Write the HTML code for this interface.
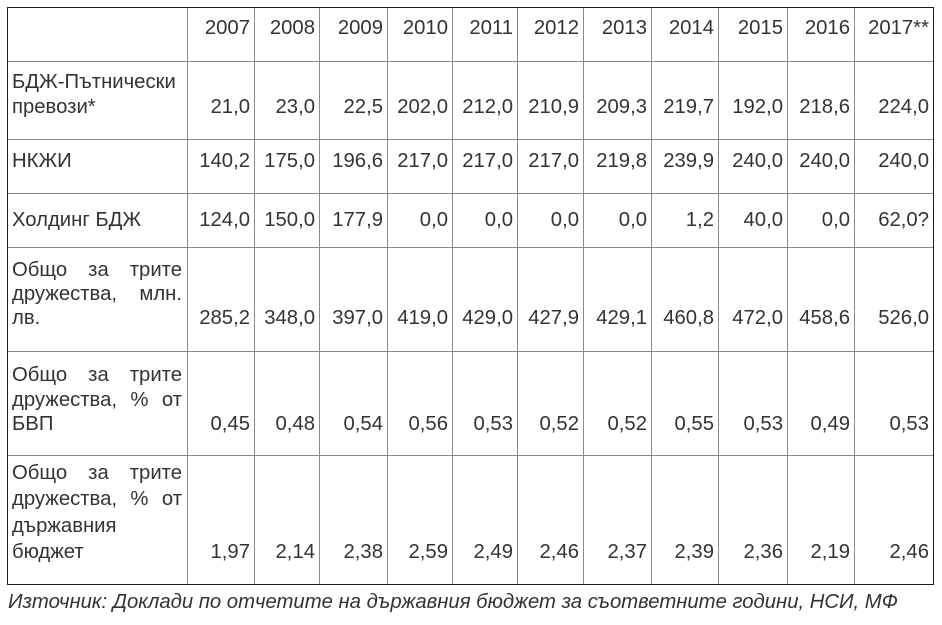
<!DOCTYPE html>
<html>
<head>
<meta charset="utf-8">
<style>
  html,body{margin:0;padding:0;background:#fff;}
  #w{position:relative;width:942px;height:625px;overflow:hidden;background:#fff;
     font-family:"Liberation Sans","Noto Sans CJK SC",sans-serif;color:#333;font-size:20.3px;}
  .vl{position:absolute;top:8px;width:1px;height:576px;background:#8a8a8a;}
  .hl{position:absolute;left:8px;width:925px;height:1px;background:#8a8a8a;}
  #ob{position:absolute;left:7px;top:7px;width:927px;height:578px;box-sizing:border-box;border:1px solid #1e1e1e;}
  .r{position:absolute;left:0;width:942px;height:24px;}
  .r div{position:absolute;top:0;height:24px;line-height:24px;white-space:nowrap;text-align:right;}
  .c1{left:187px;width:63px}
  .c2{left:254px;width:61px}
  .c3{left:319px;width:64px}
  .c4{left:387px;width:61px}
  .c5{left:452px;width:61px}
  .c6{left:517px;width:62px}
  .c7{left:583px;width:64px}
  .c8{left:651px;width:63px}
  .c9{left:718px;width:65px}
  .c10{left:787px;width:63px}
  .c11{left:854px;width:75px}
  .r div.lj{left:12px;width:170px;text-align:justify;text-align-last:justify;}
  .r div.ll{left:12px;width:170px;text-align:left;}
  #src{position:absolute;left:8px;top:590px;line-height:24px;font-size:20.3px;font-style:italic;white-space:nowrap;color:#333;}
</style>
</head>
<body>
<div id="w">
  <div class="vl" style="left:187px"></div>
  <div class="vl" style="left:254px"></div>
  <div class="vl" style="left:319px"></div>
  <div class="vl" style="left:387px"></div>
  <div class="vl" style="left:452px"></div>
  <div class="vl" style="left:517px"></div>
  <div class="vl" style="left:583px"></div>
  <div class="vl" style="left:651px"></div>
  <div class="vl" style="left:718px"></div>
  <div class="vl" style="left:787px"></div>
  <div class="vl" style="left:854px"></div>
  <div class="hl" style="top:61px"></div>
  <div class="hl" style="top:139px"></div>
  <div class="hl" style="top:193px"></div>
  <div class="hl" style="top:247px"></div>
  <div class="hl" style="top:351px"></div>
  <div class="hl" style="top:455px"></div>
  <div id="ob"></div>

  <!-- header -->
  <div class="r" style="top:16px">
    <div class="c1">2007</div><div class="c2">2008</div><div class="c3">2009</div><div class="c4">2010</div><div class="c5">2011</div><div class="c6">2012</div><div class="c7">2013</div><div class="c8">2014</div><div class="c9">2015</div><div class="c10">2016</div><div class="c11">2017**</div>
  </div>

  <!-- row 1 -->
  <div class="r" style="top:70px"><div class="ll">БДЖ-Пътнически</div></div>
  <div class="r" style="top:95px">
    <div class="ll">превози*</div>
    <div class="c1">21,0</div><div class="c2">23,0</div><div class="c3">22,5</div><div class="c4">202,0</div><div class="c5">212,0</div><div class="c6">210,9</div><div class="c7">209,3</div><div class="c8">219,7</div><div class="c9">192,0</div><div class="c10">218,6</div><div class="c11">224,0</div>
  </div>

  <!-- row 2 -->
  <div class="r" style="top:149px">
    <div class="ll">НКЖИ</div>
    <div class="c1">140,2</div><div class="c2">175,0</div><div class="c3">196,6</div><div class="c4">217,0</div><div class="c5">217,0</div><div class="c6">217,0</div><div class="c7">219,8</div><div class="c8">239,9</div><div class="c9">240,0</div><div class="c10">240,0</div><div class="c11">240,0</div>
  </div>

  <!-- row 3 -->
  <div class="r" style="top:208px">
    <div class="ll">Холдинг БДЖ</div>
    <div class="c1">124,0</div><div class="c2">150,0</div><div class="c3">177,9</div><div class="c4">0,0</div><div class="c5">0,0</div><div class="c6">0,0</div><div class="c7">0,0</div><div class="c8">1,2</div><div class="c9">40,0</div><div class="c10">0,0</div><div class="c11">62,0?</div>
  </div>

  <!-- row 4 -->
  <div class="r" style="top:258px"><div class="lj">Общо за трите</div></div>
  <div class="r" style="top:282px"><div class="lj">дружества, млн.</div></div>
  <div class="r" style="top:306px">
    <div class="ll">лв.</div>
    <div class="c1">285,2</div><div class="c2">348,0</div><div class="c3">397,0</div><div class="c4">419,0</div><div class="c5">429,0</div><div class="c6">427,9</div><div class="c7">429,1</div><div class="c8">460,8</div><div class="c9">472,0</div><div class="c10">458,6</div><div class="c11">526,0</div>
  </div>

  <!-- row 5 -->
  <div class="r" style="top:363px"><div class="lj">Общо за трите</div></div>
  <div class="r" style="top:388px"><div class="lj">дружества, % от</div></div>
  <div class="r" style="top:412px">
    <div class="ll">БВП</div>
    <div class="c1">0,45</div><div class="c2">0,48</div><div class="c3">0,54</div><div class="c4">0,56</div><div class="c5">0,53</div><div class="c6">0,52</div><div class="c7">0,52</div><div class="c8">0,55</div><div class="c9">0,53</div><div class="c10">0,49</div><div class="c11">0,53</div>
  </div>

  <!-- row 6 -->
  <div class="r" style="top:461px"><div class="lj">Общо за трите</div></div>
  <div class="r" style="top:487px"><div class="lj">дружества, % от</div></div>
  <div class="r" style="top:514px"><div class="ll">държавния</div></div>
  <div class="r" style="top:540px">
    <div class="ll">бюджет</div>
    <div class="c1">1,97</div><div class="c2">2,14</div><div class="c3">2,38</div><div class="c4">2,59</div><div class="c5">2,49</div><div class="c6">2,46</div><div class="c7">2,37</div><div class="c8">2,39</div><div class="c9">2,36</div><div class="c10">2,19</div><div class="c11">2,46</div>
  </div>

  <div id="src">Източник: Доклади по отчетите на държавния бюджет за съответните години, НСИ, МФ</div>
</div>
</body>
</html>
